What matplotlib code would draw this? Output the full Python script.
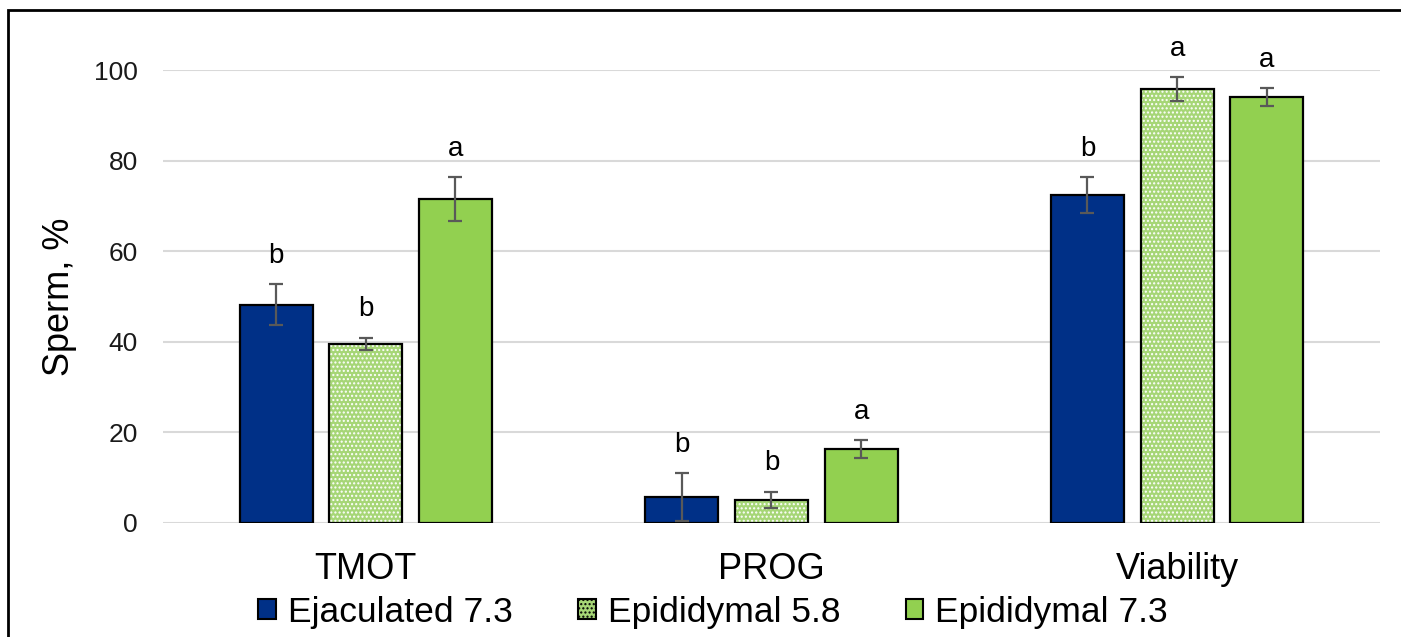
import numpy as np
import matplotlib
matplotlib.use('Agg')
from matplotlib import pyplot as plt
from matplotlib.patches import Rectangle, Patch

plt.rcParams['font.family'] = ['Liberation Sans', 'DejaVu Sans']

# data
categories = ['TMOT', 'PROG', 'Viability']
series = ['Ejaculated 7.3', 'Epididymal 5.8', 'Epididymal 7.3']
ejac_73 = [48.2, 5.7, 72.4]
ejac_73_err = [4.5, 5.3, 4.0]
epid_58 = [39.5, 5.1, 95.8]
epid_58_err = [1.4, 1.8, 2.6]
epid_73 = [71.5, 16.3, 94.0]
epid_73_err = [4.8, 2.0, 2.0]
letters = [['b', 'b', 'a'], ['b', 'b', 'a'], ['b', 'a', 'a']]  # per category

values = [ejac_73, epid_58, epid_73]
errors = [ejac_73_err, epid_58_err, epid_73_err]
colors = ['#003087', '#b4df8c', '#92D050']

fig = plt.figure(figsize=(14.01, 6.37), dpi=100)
ax = fig.add_axes([0.1163, 0.179, 0.8687, 0.711])

x = np.arange(len(categories))
width = 0.18
offsets = [-0.221, 0, 0.221]

for i in range(3):
    pos = x + offsets[i]
    if i == 1:
        # dotted pattern bar: fill + white dots, then black outline
        ax.bar(pos, values[i], width, color='#a6d676', edgecolor='white',
               hatch='....', linewidth=0, zorder=2)
        ax.bar(pos, values[i], width, fill=False, edgecolor='black',
               linewidth=1.6, zorder=3)
    else:
        ax.bar(pos, values[i], width, color=colors[i], edgecolor='black',
               linewidth=1.6, zorder=3)
    ax.errorbar(pos, values[i], yerr=errors[i], fmt='none', ecolor='#595959',
                elinewidth=1.6, capsize=5, capthick=1.6, zorder=4)
    for j in range(len(categories)):
        ax.annotate(letters[j][i], (pos[j], values[i][j] + errors[i][j]),
                    xytext=(0, 11), textcoords='offset points', ha='center',
                    va='bottom', fontsize=20, annotation_clip=False)

ax.set_xlim(-0.5, 2.5)
ax.set_ylim(0, 100)
ax.set_yticks([0, 20, 40, 60, 80, 100])
ax.set_xticks(x)
ax.set_xticklabels(categories, fontsize=26)
ax.tick_params(axis='y', length=0, pad=18, labelsize=19, colors='#1a1a1a')
ax.tick_params(axis='x', length=0, pad=21)
ax.grid(axis='y', color='#d9d9d9', linewidth=1.5, zorder=0)
ax.set_axisbelow(True)
for s in ax.spines.values():
    s.set_visible(False)
ax.set_ylabel('Sperm, %', fontsize=26, labelpad=12)

handles = [Patch(facecolor=colors[0], edgecolor='black', linewidth=1.5),
           Patch(facecolor='#a6d676', edgecolor='black', hatch='....', linewidth=1.5),
           Patch(facecolor=colors[2], edgecolor='black', linewidth=1.5)]
fig.legend(handles, series, loc='center', bbox_to_anchor=(0.509, 0.039),
           ncol=3, frameon=False, fontsize=25.5, handlelength=0.5,
           handleheight=0.5, handletextpad=0.33, columnspacing=1.85)

# outer frame
fig.patches.append(Rectangle((8 / 1401, -0.2), 1.2, 1.2 - 10 / 637,
                             transform=fig.transFigure, fill=False,
                             edgecolor='black', linewidth=2))

fig.savefig('out.png', dpi=100)
